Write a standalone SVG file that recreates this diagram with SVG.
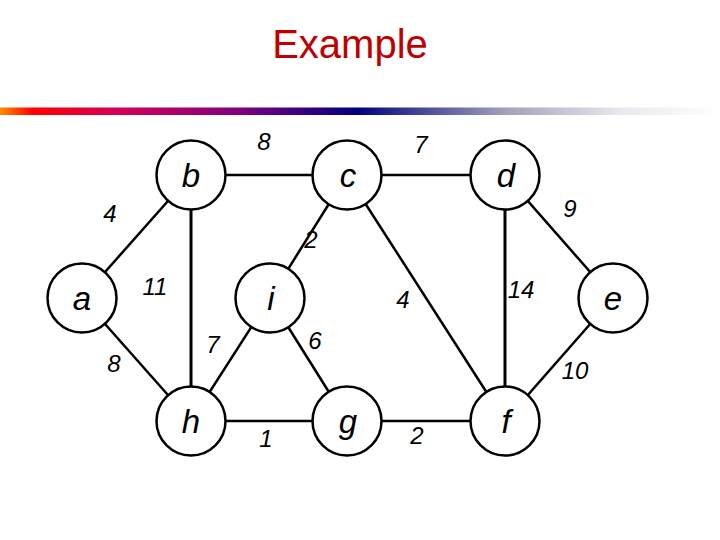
<svg xmlns="http://www.w3.org/2000/svg" width="720" height="540" viewBox="0 0 720 540">
  <defs>
    <linearGradient id="bar" x1="0" y1="0" x2="1" y2="0">
      <stop offset="0" stop-color="#ff8c00"/>
      <stop offset="0.045" stop-color="#ff0000"/>
      <stop offset="0.17" stop-color="#d0005a"/>
      <stop offset="0.33" stop-color="#800080"/>
      <stop offset="0.495" stop-color="#000080"/>
      <stop offset="0.7" stop-color="#a0a0b8"/>
      <stop offset="0.86" stop-color="#e8e8ee"/>
      <stop offset="1" stop-color="#ffffff"/>
    </linearGradient>
    <style>
      .edge { stroke: #000; stroke-width: 2.5; fill: none; }
      .thick { stroke-width: 3; }
      .node circle { fill: #fff; stroke: #000; stroke-width: 2.5; }
      .node text { font-family: "Liberation Sans", Arial, sans-serif; font-style: italic; font-size: 33px; text-anchor: middle; fill: #000; }
      .w { font-family: "Liberation Sans", Arial, sans-serif; font-style: italic; font-size: 24px; text-anchor: middle; fill: #000; }
      .title { font-family: "Liberation Sans", Arial, sans-serif; font-size: 40px; text-anchor: middle; fill: #c00000; }
    </style>
  </defs>
  <rect width="720" height="540" fill="#fff"/>
  <text class="title" x="350" y="58">Example</text>
  <rect x="0" y="107.5" width="720" height="7.5" fill="url(#bar)"/>

  <g id="connectors">
    <line class="edge" x1="82" y1="298" x2="191" y2="175"/>
    <line class="edge" x1="191" y1="175" x2="347" y2="175"/>
    <line class="edge" x1="347" y1="175" x2="505" y2="175"/>
    <line class="edge" x1="505" y1="175" x2="613" y2="298"/>
    <line class="edge" x1="613" y1="298" x2="505" y2="421"/>
    <line class="edge thick" x1="505" y1="175" x2="505" y2="421"/>
    <line class="edge thick" x1="191" y1="175" x2="191" y2="421"/>
    <line class="edge" x1="347" y1="175" x2="270" y2="298"/>
    <line class="edge" x1="347" y1="175" x2="505" y2="421"/>
    <line class="edge" x1="82" y1="298" x2="191" y2="421"/>
    <line class="edge" x1="270" y1="298" x2="191" y2="421"/>
    <line class="edge" x1="270" y1="298" x2="347" y2="421"/>
    <line class="edge" x1="191" y1="421" x2="347" y2="421"/>
    <line class="edge" x1="347" y1="421" x2="505" y2="421"/>
  </g>

  <g id="weights">
    <text class="w" x="264" y="150">8</text>
    <text class="w" x="421" y="153">7</text>
    <text class="w" x="110" y="222">4</text>
    <text class="w" x="570" y="217">9</text>
    <text class="w" x="311" y="248">2</text>
    <text class="w" x="155" y="295">11</text>
    <text class="w" x="403" y="308">4</text>
    <text class="w" x="521" y="298">14</text>
    <text class="w" x="213" y="353">7</text>
    <text class="w" x="315" y="349">6</text>
    <text class="w" x="114" y="372">8</text>
    <text class="w" x="575" y="379">10</text>
    <text class="w" x="266" y="447">1</text>
    <text class="w" x="417" y="444">2</text>
  </g>

  <g id="node-a" class="node"><circle cx="82" cy="298" r="34.5"/><text x="82" y="310">a</text></g>
  <g id="node-b" class="node"><circle cx="191" cy="175" r="34.5"/><text x="191" y="187">b</text></g>
  <g id="node-c" class="node"><circle cx="347" cy="175" r="34.5"/><text x="348" y="187">c</text></g>
  <g id="node-d" class="node"><circle cx="505" cy="175" r="34.5"/><text x="506" y="187">d</text></g>
  <g id="node-e" class="node"><circle cx="613" cy="298" r="34.5"/><text x="613" y="310">e</text></g>
  <g id="node-f" class="node"><circle cx="505" cy="421" r="34.5"/><text x="506" y="433">f</text></g>
  <g id="node-g" class="node"><circle cx="347" cy="421" r="34.5"/><text x="348" y="433">g</text></g>
  <g id="node-h" class="node"><circle cx="191" cy="421" r="34.5"/><text x="191" y="433">h</text></g>
  <g id="node-i" class="node"><circle cx="270" cy="298" r="34.5"/><text x="271" y="310">i</text></g>
</svg>
